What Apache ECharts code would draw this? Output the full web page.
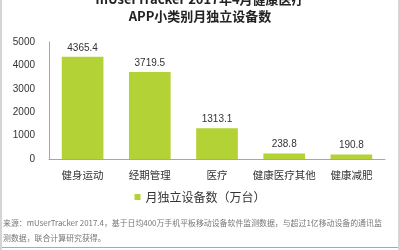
<!DOCTYPE html>
<html><head><meta charset="utf-8">
<script src="https://cdn.jsdelivr.net/npm/echarts@6/dist/echarts.min.js"></script>
<style>html,body{margin:0;padding:0;background:#fff}#c{width:400px;height:250px}</style>
</head><body><div id="c"></div>
<script>
var categories = ['健身运动','经期管理','医疗','健康医疗其他','健康减肥'];
var values = [4365.4, 3719.5, 1313.1, 238.8, 190.8];
var seriesName = '月独立设备数（万台）';
var yTicks = [0, 1000, 2000, 3000, 4000, 5000];
var titleLines = ['mUserTracker 2017年4月健康医疗', 'APP小类别月独立设备数'];
var sourceText = '来源：mUserTracker 2017.4，基于日均400万手机平板移动设备软件监测数据，与超过1亿移动设备的通讯监\n测数据，联合计算研究获得。';
var font = '"Noto Sans CJK SC", "Noto Sans", sans-serif';
var chart = echarts.init(document.getElementById('c'));
chart.setOption({
  animation: false,
  textStyle: {fontFamily: font},
  grid: {left: 49, right: 15, top: 42, bottom: 91, containLabel: false},
  xAxis: {
    type: 'category', data: categories,
    axisLine: {lineStyle: {color: '#a6a6a6'}},
    axisTick: {show: false},
    axisLabel: {color: '#333', fontSize: 10.5, margin: 11, interval: 0, fontFamily: font}
  },
  yAxis: {
    type: 'value', min: yTicks[0], max: yTicks[yTicks.length-1], interval: 1000,
    axisLine: {show: true, lineStyle: {color: '#a6a6a6'}},
    axisTick: {show: false},
    splitLine: {show: false},
    axisLabel: {color: '#333', fontSize: 10, margin: 14, fontFamily: 'Liberation Sans, sans-serif',
      formatter: function(v){ return String(v); }}
  },
  legend: {
    bottom: 42, left: 'center', itemWidth: 6, itemHeight: 6, icon: 'rect',
    textStyle: {color: '#333', fontSize: 12, fontFamily: font},
    data: [seriesName]
  },
  series: [{
    type: 'bar', name: seriesName, data: values, barWidth: '62%',
    itemStyle: {color: '#b2d235'},
    label: {show: true, position: 'top', color: '#333', fontSize: 10, distance: 4,
      fontFamily: 'Liberation Sans, sans-serif', formatter: function(p){ return p.value.toFixed(1); }}
  }],
  graphic: [
    {type: 'text', left: 'center', top: -7, style: {text: titleLines[0], font: 'bold 13px ' + font, fill: '#222'}},
    {type: 'text', left: 'center', top: 10, style: {text: titleLines[1], font: 'bold 13px ' + font, fill: '#222'}},
    {type: 'text', left: 3, top: 215, style: {text: sourceText, font: '7.9px ' + font, fill: '#777', lineHeight: 15}},
    {type: 'line', shape: {x1: 1, y1: 0, x2: 1, y2: 250}, style: {stroke: '#aaa', lineWidth: 1}},
    {type: 'line', shape: {x1: 399, y1: 0, x2: 399, y2: 250}, style: {stroke: '#aaa', lineWidth: 1}},
    {type: 'line', shape: {x1: 2, y1: 247.5, x2: 398, y2: 247.5}, style: {stroke: '#aaa', lineWidth: 1}}
  ]
});
</script></body></html>
